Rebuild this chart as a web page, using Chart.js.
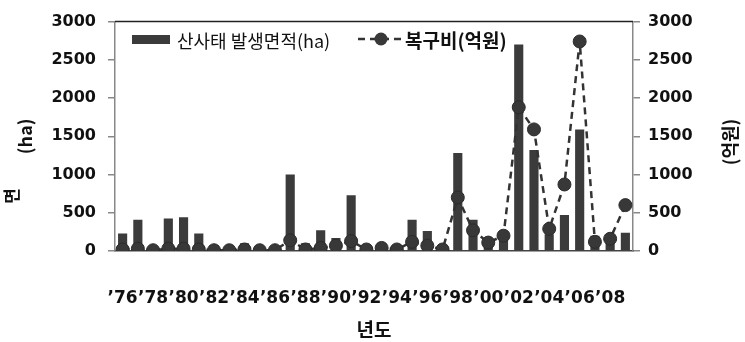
<!DOCTYPE html>
<html>
<head>
<meta charset="utf-8">
<script src="https://cdn.jsdelivr.net/npm/chart.js@4/dist/chart.umd.min.js"></script>
<style>
  html, body { margin: 0; padding: 0; background: #fff; }
  #c { display: block; }
</style>
</head>
<body>
<canvas id="c" width="745" height="342"></canvas>
<script>
// Landslide area (ha) and restoration cost (억원), 1976–2009
const years = [1976, 1977, 1978, 1979, 1980, 1981, 1982, 1983, 1984, 1985,
               1986, 1987, 1988, 1989, 1990, 1991, 1992, 1993, 1994, 1995,
               1996, 1997, 1998, 1999, 2000, 2001, 2002, 2003, 2004, 2005,
               2006, 2007, 2008, 2009];

const areaHa = [230, 410, 50, 425, 440, 230, 80, 40, 100, 40,
                30, 1000, 100, 270, 170, 730, 30, 100, 40, 410,
                260, 50, 1280, 410, 100, 250, 2700, 1320, 220, 470,
                1590, 200, 170, 240];

const costEok = [20, 30, 10, 30, 30, 20, 10, 10, 20, 10,
                 10, 140, 20, 40, 70, 130, 20, 40, 20, 120,
                 70, 20, 700, 270, 110, 200, 1880, 1590, 290, 870,
                 2740, 120, 160, 600];

// every second year is labelled as ’76, ’78, ...
const xTickLabels = years.map((y, i) => i % 2 === 0 ? '\u2019' + String(y).slice(2) : '');
const yTicks = [0, 500, 1000, 1500, 2000, 2500, 3000];

const BAR = '#3b3b3b';
const LINE = '#333333';
const KR = "'Noto Sans CJK KR', 'Noto Sans', sans-serif";
const NUM = "'DejaVu Sans', sans-serif";

// dark rule along the top of the plot area
const topRule = {
  id: 'topRule',
  afterDatasetsDraw(chart) {
    const { ctx, chartArea: a } = chart;
    ctx.save();
    ctx.strokeStyle = '#222';
    ctx.lineWidth = 1.5;
    ctx.beginPath();
    ctx.moveTo(a.left, a.top);
    ctx.lineTo(a.right, a.top);
    ctx.stroke();
    ctx.restore();
  }
};

// legend inside the plot (top-left) and the axis captions read bottom-to-top
const insideLegend = {
  id: 'insideLegend',
  afterDraw(chart) {
    const { ctx } = chart;
    const bar = chart.data.datasets[1];
    const line = chart.data.datasets[0];
    ctx.save();
    // bar entry
    ctx.fillStyle = bar.backgroundColor;
    ctx.fillRect(132, 35, 38, 9);
    ctx.fillStyle = '#111';
    ctx.textBaseline = 'middle';
    ctx.textAlign = 'left';
    ctx.font = '400 18px ' + KR;
    ctx.fillText(bar.label, 177, 41);
    // line entry
    ctx.strokeStyle = line.borderColor;
    ctx.lineWidth = 2.5;
    ctx.setLineDash([7, 5]);
    ctx.beginPath();
    ctx.moveTo(358, 39);
    ctx.lineTo(402, 39);
    ctx.stroke();
    ctx.setLineDash([]);
    ctx.fillStyle = line.pointBackgroundColor;
    ctx.beginPath();
    ctx.arc(381, 39, 6.5, 0, Math.PI * 2);
    ctx.fill();
    ctx.fillStyle = '#111';
    ctx.font = '700 19px ' + KR;
    ctx.fillText(line.label, 405, 41);
    ctx.restore();

    // leading syllable of the left axis caption
    ctx.save();
    ctx.fillStyle = '#111';
    ctx.textAlign = 'center';
    ctx.textBaseline = 'middle';
    ctx.translate(12, 196);
    ctx.rotate(-Math.PI / 2);
    ctx.font = '700 17px ' + KR;
    ctx.fillText('면', 0, 0);
    ctx.restore();

    // right axis caption
    ctx.save();
    ctx.fillStyle = '#111';
    ctx.textAlign = 'center';
    ctx.textBaseline = 'middle';
    ctx.translate(730, 142);
    ctx.rotate(-Math.PI / 2);
    ctx.font = '700 18px ' + KR;
    ctx.fillText(chart.options.scales.y1.title.text, 0, 0);
    ctx.restore();
  }
};

new Chart(document.getElementById('c'), {
  type: 'bar',
  data: {
    labels: years.map(String),
    datasets: [
      {
        type: 'line',
        label: '복구비(억원)',
        data: costEok,
        yAxisID: 'y1',
        borderColor: LINE,
        borderWidth: 2.5,
        borderDash: [7, 5],
        pointRadius: 6.5,
        pointBackgroundColor: '#383838',
        pointBorderColor: '#2b2b2b',
        pointBorderWidth: 1,
        tension: 0,
        order: 0
      },
      {
        type: 'bar',
        label: '산사태 발생면적(ha)',
        data: areaHa,
        yAxisID: 'y',
        backgroundColor: BAR,
        barPercentage: 0.6,
        categoryPercentage: 1,
        order: 1
      }
    ]
  },
  options: {
    responsive: false,
    animation: false,
    layout: { padding: { top: 17, left: 0, right: 0, bottom: 0 } },
    plugins: { legend: { display: false }, tooltip: { enabled: false } },
    scales: {
      x: {
        offset: true,
        grid: { display: false },
        border: { display: true, color: '#444', width: 1.5 },
        ticks: {
          autoSkip: false, maxRotation: 0, minRotation: 0,
          padding: 29, color: '#111',
          font: { family: NUM, size: 17, weight: 'bold' },
          callback: (v, i) => xTickLabels[i]
        },
        title: {
          display: true, text: '년도', color: '#111',
          font: { family: KR, size: 19, weight: 'bold' },
          padding: { top: 0, bottom: 1 }
        },
        afterFit: s => { s.height = 91; }
      },
      y: {
        position: 'left',
        min: 0, max: 3000,
        afterBuildTicks: s => { s.ticks = yTicks.map(v => ({ value: v })); },
        grid: { display: true, drawOnChartArea: false, drawTicks: true, tickLength: 7, color: '#888', lineWidth: 1.5 },
        border: { display: true, color: '#888', width: 1.5 },
        ticks: { padding: 12, color: '#111', font: { family: NUM, size: 16, weight: 'bold' }, callback: v => String(v) },
        title: {
          display: true, text: '(ha)', color: '#111',
          font: { family: KR, size: 18, weight: 'bold' },
          padding: { top: 14, bottom: 0 }
        },
        afterFit: s => { s.width = 115; }
      },
      y1: {
        position: 'right',
        min: 0, max: 3000,
        afterBuildTicks: s => { s.ticks = yTicks.map(v => ({ value: v })); },
        grid: { display: true, drawOnChartArea: false, drawTicks: true, tickLength: 7, color: '#888', lineWidth: 1.5 },
        border: { display: true, color: '#888', width: 1.5 },
        ticks: { padding: 8, color: '#111', font: { family: NUM, size: 16, weight: 'bold' }, callback: v => String(v) },
        // caption is painted by the insideLegend plugin so it reads bottom-to-top
        title: { display: false, text: '(억원)' },
        afterFit: s => { s.width = 112; }
      }
    }
  },
  plugins: [topRule, insideLegend]
});
</script>
</body>
</html>
